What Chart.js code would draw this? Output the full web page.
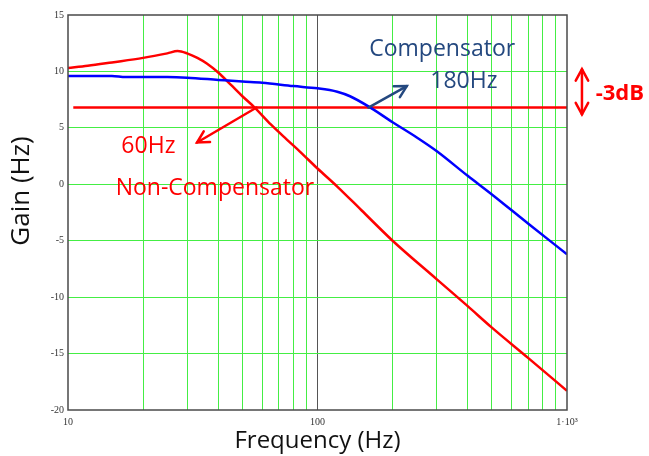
<!DOCTYPE html>
<html>
<head>
<meta charset="utf-8">
<script src="https://cdn.jsdelivr.net/npm/chart.js@4.4.1/dist/chart.umd.min.js"></script>
<style>
  html, body { margin: 0; padding: 0; background: #fff; }
  #wrap { width: 649px; height: 456px; }
</style>
</head>
<body>
<div id="wrap"><canvas id="gainChart" width="649" height="456"></canvas></div>
<script>
'use strict';

/* ── DATA ────────────────────────────────────────────────────── */
const freqNonComp = [10, 12, 15, 20, 25, 27.5, 30, 33, 36, 40, 45, 50, 56, 65, 75, 85, 100, 120, 150, 200, 300, 400, 500, 700, 1000];
const gainNonComp = [10.3, 10.5, 10.8, 11.2, 11.6, 11.8, 11.6, 11.2, 10.7, 9.9, 8.8, 7.8, 6.8, 5.3, 4.0, 2.9, 1.4, -0.2, -2.3, -5.0, -8.4, -10.8, -12.7, -15.4, -18.3];

const freqComp = [10, 15, 17, 25, 30, 40, 50, 60, 80, 100, 120, 135, 160, 200, 250, 300, 400, 500, 700, 1000];
const gainComp = [9.6, 9.6, 9.5, 9.5, 9.45, 9.25, 9.1, 9.0, 8.7, 8.5, 8.2, 7.8, 6.9, 5.5, 4.15, 2.95, 0.75, -0.9, -3.5, -6.2];

const freqCutoff = [10.5, 1000];
const gainCutoff = [6.8, 6.8];

const xGridFreqs  = [10, 20, 30, 40, 50, 60, 70, 80, 90, 100, 200, 300, 400, 500, 600, 700, 800, 900, 1000];
const xTickLabels = { 10: '10', 100: '100', 1000: '1·10³' };
const yTicks      = [-20, -15, -10, -5, 0, 5, 10, 15];

const toPoints = (xs, ys) => xs.map((x, i) => ({ x, y: ys[i] }));

/* ── ANNOTATIONS (placed in data units) ──────────────────────── */
const DARK_BLUE = '#24487f';
const RED       = '#ff0000';

const notes = [
  { text: 'Compensator',     f: 316,  g: 11.95, color: DARK_BLUE, font: '23px "Open Sans"' },
  { text: '180Hz',           f: 386,  g: 9.1,   color: DARK_BLUE, font: '23px "Open Sans"' },
  { text: '60Hz',            f: 21,   g: 3.35,  color: RED,       font: '23px "Open Sans"' },
  { text: 'Non-Compensator', f: 38.8, g: -0.35, color: RED,       font: '23px "Open Sans"' },
  { text: '-3dB',            f: 1629, g: 8.05,  color: RED,       font: 'bold 22px "Open Sans"' },
];

const arrows = [
  { from: [160, 6.8], to: [228, 8.7],  color: DARK_BLUE, both: false },
  { from: [57, 6.8],  to: [32.9, 3.7], color: RED,       both: false },
  { from: [1148, 6.2], to: [1148, 10.2], color: RED,     both: true  },
];

function drawHead(ctx, x1, y1, x2, y2, len) {
  const a = Math.atan2(y2 - y1, x2 - x1);
  ctx.beginPath();
  ctx.moveTo(x2 - len * Math.cos(a - 0.5), y2 - len * Math.sin(a - 0.5));
  ctx.lineTo(x2, y2);
  ctx.lineTo(x2 - len * Math.cos(a + 0.5), y2 - len * Math.sin(a + 0.5));
  ctx.stroke();
}

const framePlugin = {
  id: 'frameAndNotes',
  afterDatasetsDraw(chart) {
    const { ctx, chartArea: a } = chart;
    ctx.save();
    ctx.strokeStyle = '#4a4a4a';
    ctx.lineWidth = 1.5;
    ctx.strokeRect(a.left, a.top, a.right - a.left, a.bottom - a.top);
    ctx.restore();
  },
  afterDraw(chart) {
    const { ctx } = chart;
    const xs = chart.scales.x, ys = chart.scales.y;
    ctx.save();
    ctx.textAlign = 'center';
    ctx.textBaseline = 'middle';

    // y axis title sits a bit above the axis middle in the original
    ctx.save();
    ctx.translate(22, ys.getPixelForValue(-0.6));
    ctx.rotate(-Math.PI / 2);
    ctx.font = '26px "Open Sans"';
    ctx.fillStyle = '#111';
    ctx.fillText('Gain (Hz)', 0, 0);
    ctx.restore();

    notes.forEach(n => {
      ctx.font = n.font;
      ctx.fillStyle = n.color;
      ctx.fillText(n.text, xs.getPixelForValue(n.f), ys.getPixelForValue(n.g));
    });
    ctx.lineWidth = 2.5;
    ctx.lineCap = 'round';
    arrows.forEach(ar => {
      const x1 = xs.getPixelForValue(ar.from[0]), y1 = ys.getPixelForValue(ar.from[1]);
      const x2 = xs.getPixelForValue(ar.to[0]),   y2 = ys.getPixelForValue(ar.to[1]);
      ctx.strokeStyle = ar.color;
      ctx.beginPath();
      ctx.moveTo(x1, y1);
      ctx.lineTo(x2, y2);
      ctx.stroke();
      drawHead(ctx, x1, y1, x2, y2, 13);
      if (ar.both) drawHead(ctx, x2, y2, x1, y1, 13);
    });
    ctx.restore();
  }
};

/* ── CHART ───────────────────────────────────────────────────── */
const GRID_GREEN = '#44ee44';
const tickFont = { family: '"Liberation Serif", serif', size: 10 };

new Chart(document.getElementById('gainChart'), {
  type: 'line',
  data: {
    datasets: [
      { label: 'Compensator', data: toPoints(freqComp, gainComp),
        borderColor: '#0000ff', borderWidth: 2.5, pointRadius: 0, cubicInterpolationMode: 'monotone' },
      { label: 'Non-Compensator', data: toPoints(freqNonComp, gainNonComp),
        borderColor: '#ff0000', borderWidth: 2.5, pointRadius: 0, cubicInterpolationMode: 'monotone' },
      { label: '-3dB', data: toPoints(freqCutoff, gainCutoff),
        borderColor: '#ff0000', borderWidth: 2.5, pointRadius: 0 },
    ]
  },
  options: {
    responsive: false,
    animation: false,
    layout: { padding: { left: 0, right: 82, top: 15, bottom: 0 } },
    plugins: { legend: { display: false }, tooltip: { enabled: false } },
    scales: {
      x: {
        type: 'logarithmic',
        min: 10, max: 1000,
        afterBuildTicks: s => { s.ticks = xGridFreqs.map(v => ({ value: v })); },
        afterFit: s => { s.height = 46; },
        border: { display: false },
        grid: {
          drawTicks: false,
          lineWidth: 1,
          color: c => c.tick.value === 100 ? '#555555'
                    : (c.tick.value === 10 || c.tick.value === 1000) ? 'rgba(0,0,0,0)' : GRID_GREEN,
        },
        ticks: {
          autoSkip: false, maxRotation: 0, padding: 6,
          font: tickFont, color: '#333',
          callback: v => xTickLabels[v] || '',
        },
        title: {
          display: true, text: 'Frequency (Hz)', color: '#111',
          font: { family: '"Open Sans", sans-serif', size: 24 },
          padding: { top: 0, bottom: 0 },
        },
      },
      y: {
        min: -20, max: 15,
        afterBuildTicks: s => { s.ticks = yTicks.map(v => ({ value: v })); },
        afterFit: s => { s.width = 68; },
        border: { display: false },
        grid: {
          drawTicks: false,
          lineWidth: 1,
          color: c => (c.tick.value === -20 || c.tick.value === 15) ? 'rgba(0,0,0,0)' : GRID_GREEN,
        },
        ticks: { padding: 4, font: tickFont, color: '#333' },
      }
    }
  },
  plugins: [framePlugin]
});
</script>
</body>
</html>
